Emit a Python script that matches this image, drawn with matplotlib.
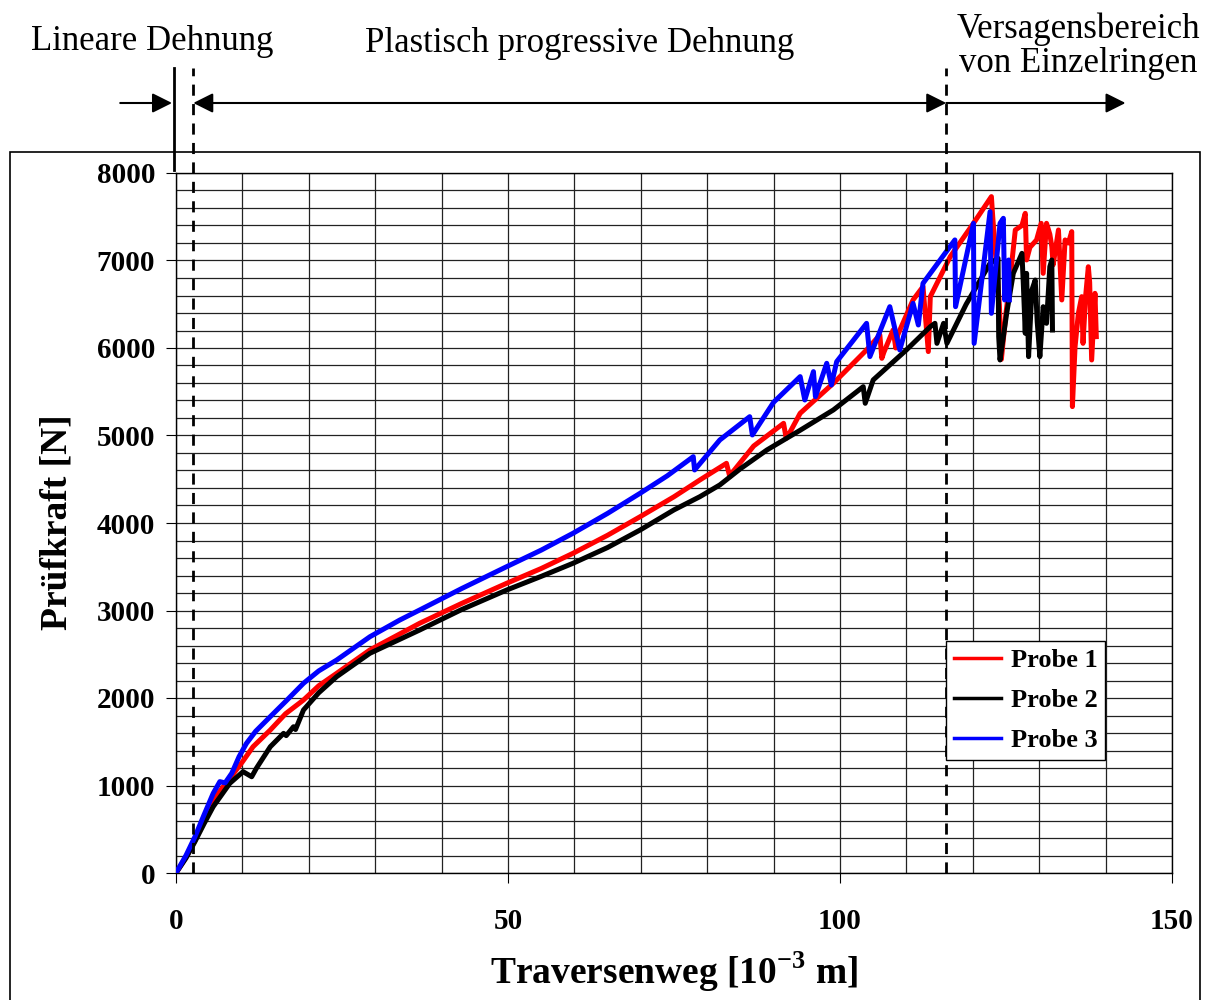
import matplotlib
matplotlib.use("Agg")
import matplotlib.pyplot as plt
from matplotlib.ticker import MultipleLocator
from matplotlib.patches import Rectangle

plt.rcParams['font.family'] = ['Liberation Serif', 'DejaVu Serif']
plt.rcParams['mathtext.fontset'] = 'custom'
plt.rcParams['mathtext.rm'] = 'Liberation Serif'
plt.rcParams['mathtext.bf'] = 'Liberation Serif:bold'

# Probe 1 (rot)
p1_x = [0, 1.5, 2.9, 4.2, 5.6, 7.1, 8.5, 10, 11.6, 14.2, 16.5, 19.2, 21.5, 24.2, 29.2, 36.7, 43, 49.8, 55,
        59.8, 65, 69.9, 75, 78.9, 82.9, 83.4, 83.6, 87, 91.5, 91.9, 92.2, 94, 99, 104, 106, 106.3, 106.6,
        108, 108.4, 108.7, 111, 112.5, 113.3, 113.6, 116.6, 120.1, 122.8, 123.0, 124.0, 124.3,
        125.0, 125.6, 126.4, 127.4, 127.9, 128.1, 128.6, 129.6, 130.3, 130.6, 131.1, 131.6, 131.9,
        132.1, 132.9, 133.4, 133.9, 134.4, 134.9, 135.0, 135.4, 135.9, 136.4, 136.6, 137.0, 137.4,
        137.6, 137.9, 138.4, 138.6]
p1_y = [0, 180, 377, 600, 834, 986, 1120, 1270, 1443, 1634, 1820, 1977, 2140, 2282, 2549, 2854, 3080, 3311, 3480,
        3654, 3860, 4072, 4300, 4492, 4682, 4530, 4560, 4880, 5139, 4968, 5000, 5254, 5597, 5978, 6149, 5882,
        5950, 6206, 6000, 6150, 6549, 6701, 5959, 6587, 7044, 7425, 7730, 7500, 6500, 5870,
        6400, 6777, 7349, 7400, 7539, 7006, 7150, 7235, 7425, 6853, 7425, 7300, 7158,
        6950, 7349, 6549, 7235, 7200, 7330, 5330, 6015, 6396, 6587, 6053, 6600, 6929,
        6750, 5863, 6625, 6130]

# Probe 2 (schwarz)
p2_x = [0, 1.5, 2.86, 4.2, 5.6, 8.1, 10.1, 11.4, 12.1, 14.2, 16.2, 16.6, 17.7, 18.0, 19.2, 21.5, 24.2, 29.2,
        36.7, 43, 49.8, 55, 59.8, 65, 69.9, 75, 78.9, 81.9, 85, 89, 94, 99, 103.5, 103.8, 105, 110,
        113.6, 114.3, 114.6, 115.6, 116.1, 119, 122.6, 123.8, 123.9, 124.1, 125.1, 126.1, 127.4,
        127.6, 127.9, 128.1, 128.4, 128.9, 129.4, 129.7, 130.1, 130.6, 131.1, 131.6, 131.9, 132.0]
p2_y = [0, 170, 360, 560, 758, 1025, 1158, 1100, 1196, 1443, 1596, 1570, 1672, 1640, 1863, 2060, 2244, 2511,
        2777, 3010, 3234, 3390, 3540, 3720, 3920, 4150, 4301, 4435, 4620, 4835, 5060, 5292, 5558, 5368,
        5635, 5978, 6244, 6282, 6053, 6282, 6053, 6500, 6968, 7025, 6130, 5863, 6396, 6853, 7082,
        6750, 6168, 6853, 5901, 6663, 6777, 6300, 5901, 6472, 6282, 6929, 7006, 6206]

# Probe 3 (blau)
p3_x = [0, 1.5, 2.86, 4.2, 5.6, 6.6, 7.4, 8.4, 9.5, 10.6, 12, 14.2, 16.5, 19.2, 21.5, 24.2, 29.2, 33.7, 36.7,
        43, 49.8, 55, 59.8, 65, 69.9, 74, 77.9, 78.1, 81.9, 86.4, 86.8, 90, 94, 94.7, 96, 96.3, 98, 98.7, 99.5,
        104, 104.5, 107.5, 109, 111, 111.8, 112.5, 117.3, 117.4, 120.1, 120.2, 122.6, 122.8, 124.1,
        124.6, 124.8, 125.4, 125.5]
p3_y = [0, 200, 415, 660, 910, 1044, 1030, 1140, 1330, 1480, 1620, 1787, 1960, 2168, 2310, 2434, 2700, 2891, 3006,
        3250, 3501, 3690, 3883, 4110, 4340, 4540, 4758, 4606, 4949, 5215, 5006, 5380, 5673, 5406, 5730, 5444, 5825,
        5577, 5844, 6282, 5902, 6472, 5978, 6510, 6263, 6739, 7235, 6472, 7425, 6053, 7558, 6396, 7425,
        7482, 6549, 7006, 6550]

bereich_grenzen = [2.6, 116]

fig = plt.figure(figsize=(12.17, 10), dpi=100)
ax = fig.add_axes([176 / 1217, 0.127, 996 / 1217, 0.700])

ax.plot(p1_x, p1_y, color='#ff0000', lw=3.6, label='Probe 1', zorder=3, solid_joinstyle='round')
ax.plot(p2_x, p2_y, color='black', lw=3.6, label='Probe 2', zorder=3, solid_joinstyle='round')
ax.plot(p3_x, p3_y, color='#0000ff', lw=3.6, label='Probe 3', zorder=3, solid_joinstyle='round')

ax.set_xlim(0, 150)
ax.set_ylim(0, 8000)
ax.xaxis.set_major_locator(MultipleLocator(50))
ax.xaxis.set_minor_locator(MultipleLocator(10))
ax.yaxis.set_major_locator(MultipleLocator(1000))
ax.yaxis.set_minor_locator(MultipleLocator(200))
ax.grid(which='both', color='#222222', lw=0.9)
ax.set_axisbelow(True)
ax.tick_params(which='minor', length=0)
ax.tick_params(axis='y', which='major', length=7, pad=8, labelsize=21)
ax.tick_params(axis='x', which='major', length=7, pad=18, labelsize=21)
for lab in ax.get_xticklabels() + ax.get_yticklabels():
    lab.set_fontweight('bold')
for s in ax.spines.values():
    s.set_linewidth(1)

# Bereichsgrenzen (gestrichelt) und Pfeile oberhalb des Diagramms
y_top = 9200
y_pfeil = 8800
for xg in bereich_grenzen:
    ax.plot([xg, xg], [0, y_top], ls=(0, (4, 3)), color='black', lw=2, clip_on=False, zorder=4)
ax.plot([-0.3, -0.3], [8030, y_top], color='black', lw=2, clip_on=False)

pfeil = dict(color='black', lw=1.5, shrinkA=0, shrinkB=0, mutation_scale=30)
ax.annotate('', xy=(-0.6, y_pfeil), xytext=(-8.4, y_pfeil), annotation_clip=False,
            arrowprops=dict(arrowstyle='-|>', **pfeil))
ax.annotate('', xy=(bereich_grenzen[0], y_pfeil), xytext=(bereich_grenzen[1], y_pfeil),
            annotation_clip=False, arrowprops=dict(arrowstyle='<|-|>', **pfeil))
ax.annotate('', xy=(143, y_pfeil), xytext=(bereich_grenzen[1], y_pfeil), annotation_clip=False,
            arrowprops=dict(arrowstyle='-|>', **pfeil))

fig.text(152 / 1217, 1 - 42 / 1000, 'Lineare Dehnung', ha='center', va='center', fontsize=25)
fig.text(580 / 1217, 1 - 44 / 1000, 'Plastisch progressive Dehnung', ha='center', va='center', fontsize=25)
fig.text(1078 / 1217, 1 - 29 / 1000, 'Versagensbereich', ha='center', va='center', fontsize=25)
fig.text(1078 / 1217, 1 - 64 / 1000, 'von Einzelringen', ha='center', va='center', fontsize=25)

fig.text(674 / 1217, 1 - 972 / 1000, r'Traversenweg [10$^{\mathbf{-3}}$ m]', ha='center', va='center',
         fontsize=27, fontweight='bold')
fig.text(57 / 1217, 1 - 522 / 1000, 'Prüfkraft [N]', ha='center', va='center', rotation=90,
         fontsize=27, fontweight='bold')

# Rahmen des Diagrammbereichs
fig.patches.append(Rectangle((10 / 1217, -0.01), 1190 / 1217, 1 - 152 / 1000 + 0.01, fill=False,
                             lw=1.2, edgecolor='black', transform=fig.transFigure, figure=fig))

leg = ax.legend(loc='upper left', bbox_to_anchor=(946 / 1217, 1 - 641 / 1000), bbox_transform=fig.transFigure,
                borderaxespad=0, fancybox=False, framealpha=1, edgecolor='black',
                prop={'weight': 'bold', 'size': 19}, handlelength=1.8, handletextpad=0.35,
                labelspacing=0.62, borderpad=0.3)
leg.get_frame().set_linewidth(1)
for h in leg.get_lines():
    h.set_linewidth(2.5)

fig.savefig('out.png', dpi=100)
